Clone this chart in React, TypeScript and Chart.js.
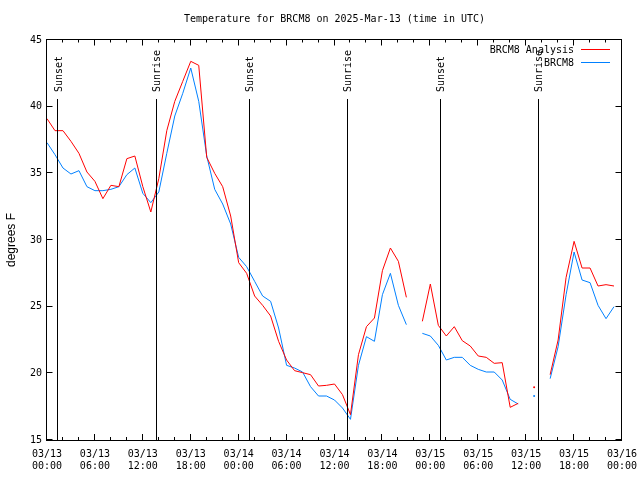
import React, { useEffect, useRef } from "react";
import { Chart, registerables } from "chart.js";

Chart.register(...registerables);

const titleText = "Temperature for BRCM8 on 2025-Mar-13 (time in UTC)";
const yTitle = "degrees F";

// hours since 2025-03-13 00:00 UTC
const hours = [
  0, 1, 2, 3, 4, 5, 6, 7, 8, 9, 10, 11, 12, 13, 14, 15, 16, 17, 18, 19, 20, 21, 22, 23,
  24, 25, 26, 27, 28, 29, 30, 31, 32, 33, 34, 35, 36, 37, 38, 39, 40, 41, 42, 43, 44, 45, 46, 47,
  48, 49, 50, 51, 52, 53, 54, 55, 56, 57, 58, 59, 60, 61, 62, 63, 64, 65, 66, 67, 68, 69, 70, 71,
];

const analysisLabel = "BRCM8 Analysis";
const analysis: (number | null)[] = [
  39.1, 38.2, 38.2, 37.4, 36.5, 35.1, 34.4, 33.1, 34.1, 34.0, 36.1, 36.3,
  34.0, 32.1, 34.6, 38.2, 40.4, 41.9, 43.4, 43.1, 36.2, 35.0, 34.0, 31.8,
  28.3, 27.5, 25.8, 25.1, 24.3, 22.4, 21.0, 20.2, 20.05, 19.9, 19.05, 19.1,
  19.2, 18.4, 16.9, 21.4, 23.5, 24.15, 27.7, 29.4, 28.4, 25.7, null, 23.9,
  26.7, 23.6, 22.8, 23.5, 22.45, 22.05, 21.3, 21.2, 20.75, 20.8, 17.45, 17.75,
  null, 18.95, null, 19.9, 22.5, 27.2, 29.9, 27.9, 27.9, 26.55, 26.65, 26.55,
];

const stationLabel = "BRCM8";
const station: (number | null)[] = [
  37.3, 36.4, 35.4, 34.95, 35.2, 34.0, 33.7, 33.7, 33.8, 34.0, 34.9, 35.4,
  33.5, 32.8, 33.6, 36.5, 39.3, 41.0, 42.9, 40.4, 36.3, 33.8, 32.7, 31.2,
  28.7, 28.0, 26.9, 25.8, 25.4, 23.4, 20.6, 20.4, 20.1, 19.0, 18.3, 18.3,
  18.0, 17.4, 16.55, 20.6, 22.75, 22.4, 25.9, 27.5, 25.1, 23.65, null, 23.0,
  22.8, 22.1, 21.0, 21.2, 21.2, 20.6, 20.3, 20.1, 20.1, 19.5, 18.05, 17.7,
  null, 18.3, null, 19.6, 22.0, 25.9, 29.1, 27.0, 26.8, 25.1, 24.1, 25.0,
];

const xTickValues = [0, 6, 12, 18, 24, 30, 36, 42, 48, 54, 60, 66, 72];
const xTickDates = ["03/13", "03/13", "03/13", "03/13", "03/14", "03/14", "03/14", "03/14", "03/15", "03/15", "03/15", "03/15", "03/16"];
const xTickTimes = ["00:00", "06:00", "12:00", "18:00", "00:00", "06:00", "12:00", "18:00", "00:00", "06:00", "12:00", "18:00", "00:00"];

const yMin = 15;
const yMax = 45;
const yStep = 5;

// sunrise / sunset markers (hours since 03/13 00:00 UTC)
const sunTimes = [1.38, 13.72, 25.37, 37.63, 49.3, 61.58];
const sunLabels = ["Sunset", "Sunrise", "Sunset", "Sunrise", "Sunset", "Sunrise"];

const RED = "#ff0000";
const BLUE = "#0080ff";
const MONO = "'DejaVu Sans Mono', 'Liberation Mono', monospace";

const decorations = {
  id: "gnuplotDecor",
  afterDraw(chart: any) {
    const { ctx, chartArea } = chart;
    const { left, right, top, bottom } = chartArea;
    const xs = chart.scales.x;
    const ys = chart.scales.y;
    ctx.save();
    ctx.strokeStyle = "#000";
    ctx.lineWidth = 1;
    // frame
    ctx.strokeRect(left - 0.5, top - 0.5, right - left, bottom - top + 1);
    // x ticks (inward, mirrored)
    ctx.beginPath();
    xs.ticks.forEach((t: any) => {
      const px = Math.round(xs.getPixelForValue(t.value)) - 0.5;
      const major = xTickValues.indexOf(t.value) >= 0;
      const len = major ? 6 : 3;
      ctx.moveTo(px, bottom);
      ctx.lineTo(px, bottom - len);
      ctx.moveTo(px, top - 0.5);
      ctx.lineTo(px, top - 0.5 + len);
    });
    // y ticks
    ys.ticks.forEach((t: any) => {
      const py = Math.round(ys.getPixelForValue(t.value)) - 0.5;
      ctx.moveTo(left - 0.5, py);
      ctx.lineTo(left - 0.5 + 6, py);
      ctx.moveTo(right - 0.5, py);
      ctx.lineTo(right - 0.5 - 6, py);
    });
    ctx.stroke();
    // sunrise / sunset lines
    ctx.beginPath();
    sunTimes.forEach((h) => {
      const px = Math.round(xs.getPixelForValue(h)) - 0.5;
      ctx.moveTo(px, top + 59);
      ctx.lineTo(px, bottom);
    });
    ctx.stroke();
    ctx.fillStyle = "#000";
    ctx.font = `10px ${MONO}`;
    ctx.textAlign = "left";
    ctx.textBaseline = "middle";
    sunTimes.forEach((h, i) => {
      const px = xs.getPixelForValue(h);
      ctx.save();
      ctx.translate(px + 1, top + 52);
      ctx.rotate(-Math.PI / 2);
      ctx.fillText(sunLabels[i], 0, 0);
      ctx.restore();
    });
    // legend (text right-aligned, sample line to the right)
    ctx.textAlign = "right";
    chart.data.datasets.forEach((ds: any, i: number) => {
      const ly = top + 10 + i * 13;
      ctx.fillStyle = "#000";
      ctx.fillText(ds.label, right - 48, ly);
      ctx.strokeStyle = ds.borderColor;
      ctx.beginPath();
      ctx.moveTo(right - 41, ly - 0.5);
      ctx.lineTo(right - 12, ly - 0.5);
      ctx.stroke();
    });
    ctx.restore();
  },
};

function isolatedRadius(ctx: any) {
  const d = ctx.dataset.data;
  const i = ctx.dataIndex;
  const prev = d[i - 1];
  const next = d[i + 1];
  const pNull = !prev || prev.y === null;
  const nNull = !next || next.y === null;
  return pNull && nNull ? 1 : 0;
}

export default function App() {
  const ref = useRef<HTMLCanvasElement | null>(null);
  useEffect(() => {
    if (!ref.current) return;
    const chart = new Chart(ref.current, {
      type: "line",
      data: {
        datasets: [
          {
            label: analysisLabel,
            data: hours.map((h, i) => ({ x: h, y: analysis[i] })),
            borderColor: RED,
            backgroundColor: RED,
            borderWidth: 1,
            pointRadius: isolatedRadius,
            pointBorderWidth: 0,
            pointHoverRadius: 0,
            spanGaps: false,
            tension: 0,
          },
          {
            label: stationLabel,
            data: hours.map((h, i) => ({ x: h, y: station[i] })),
            borderColor: BLUE,
            backgroundColor: BLUE,
            borderWidth: 1,
            pointRadius: isolatedRadius,
            pointBorderWidth: 0,
            pointHoverRadius: 0,
            spanGaps: false,
            tension: 0,
          },
        ],
      },
      options: {
        animation: false,
        responsive: false,
        devicePixelRatio: 1,
        events: [],
        layout: { padding: { left: 0, right: 18, top: 0, bottom: 0 } },
        plugins: {
          legend: { display: false },
          tooltip: { enabled: false },
          title: {
            display: true,
            text: titleText,
            fullSize: false,
            color: "#000",
            font: { family: MONO, size: 10, weight: "normal" },
            padding: { top: 13, bottom: 15 },
          },
        },
        scales: {
          x: {
            type: "linear",
            min: 0,
            max: 72,
            grid: { display: false, drawTicks: false },
            border: { display: false },
            afterFit: (s: any) => {
              s.height = 40;
              s.paddingLeft = 0;
              s.paddingRight = 0;
              s.paddingTop = 0;
              s.paddingBottom = 0;
            },
            ticks: {
              stepSize: 2,
              autoSkip: false,
              maxRotation: 0,
              minRotation: 0,
              padding: 8,
              color: "#000",
              font: { family: MONO, size: 10, lineHeight: 1.25 },
              callback: (v: any) => {
                const i = xTickValues.indexOf(Number(v));
                return i >= 0 ? [xTickDates[i], xTickTimes[i]] : "";
              },
            },
          },
          y: {
            type: "linear",
            min: yMin,
            max: yMax,
            grid: { display: false, drawTicks: false },
            border: { display: false },
            afterFit: (s: any) => {
              s.width = 47;
              s.paddingLeft = 0;
              s.paddingRight = 0;
              s.paddingTop = 0;
              s.paddingBottom = 0;
            },
            title: {
              display: true,
              text: yTitle,
              color: "#000",
              font: { family: "'Liberation Sans', Arial, sans-serif", size: 12 },
              padding: { top: 4, bottom: 4 },
            },
            ticks: {
              stepSize: yStep,
              padding: 5,
              color: "#000",
              font: { family: MONO, size: 10 },
            },
          },
        },
      },
      plugins: [decorations],
    } as any);
    return () => chart.destroy();
  }, []);
  return (
    <div style={{ position: "fixed", left: 0, top: 0, width: 640, height: 480, background: "#fff" }}>
      <canvas ref={ref} width={640} height={480} style={{ display: "block" }} />
    </div>
  );
}
